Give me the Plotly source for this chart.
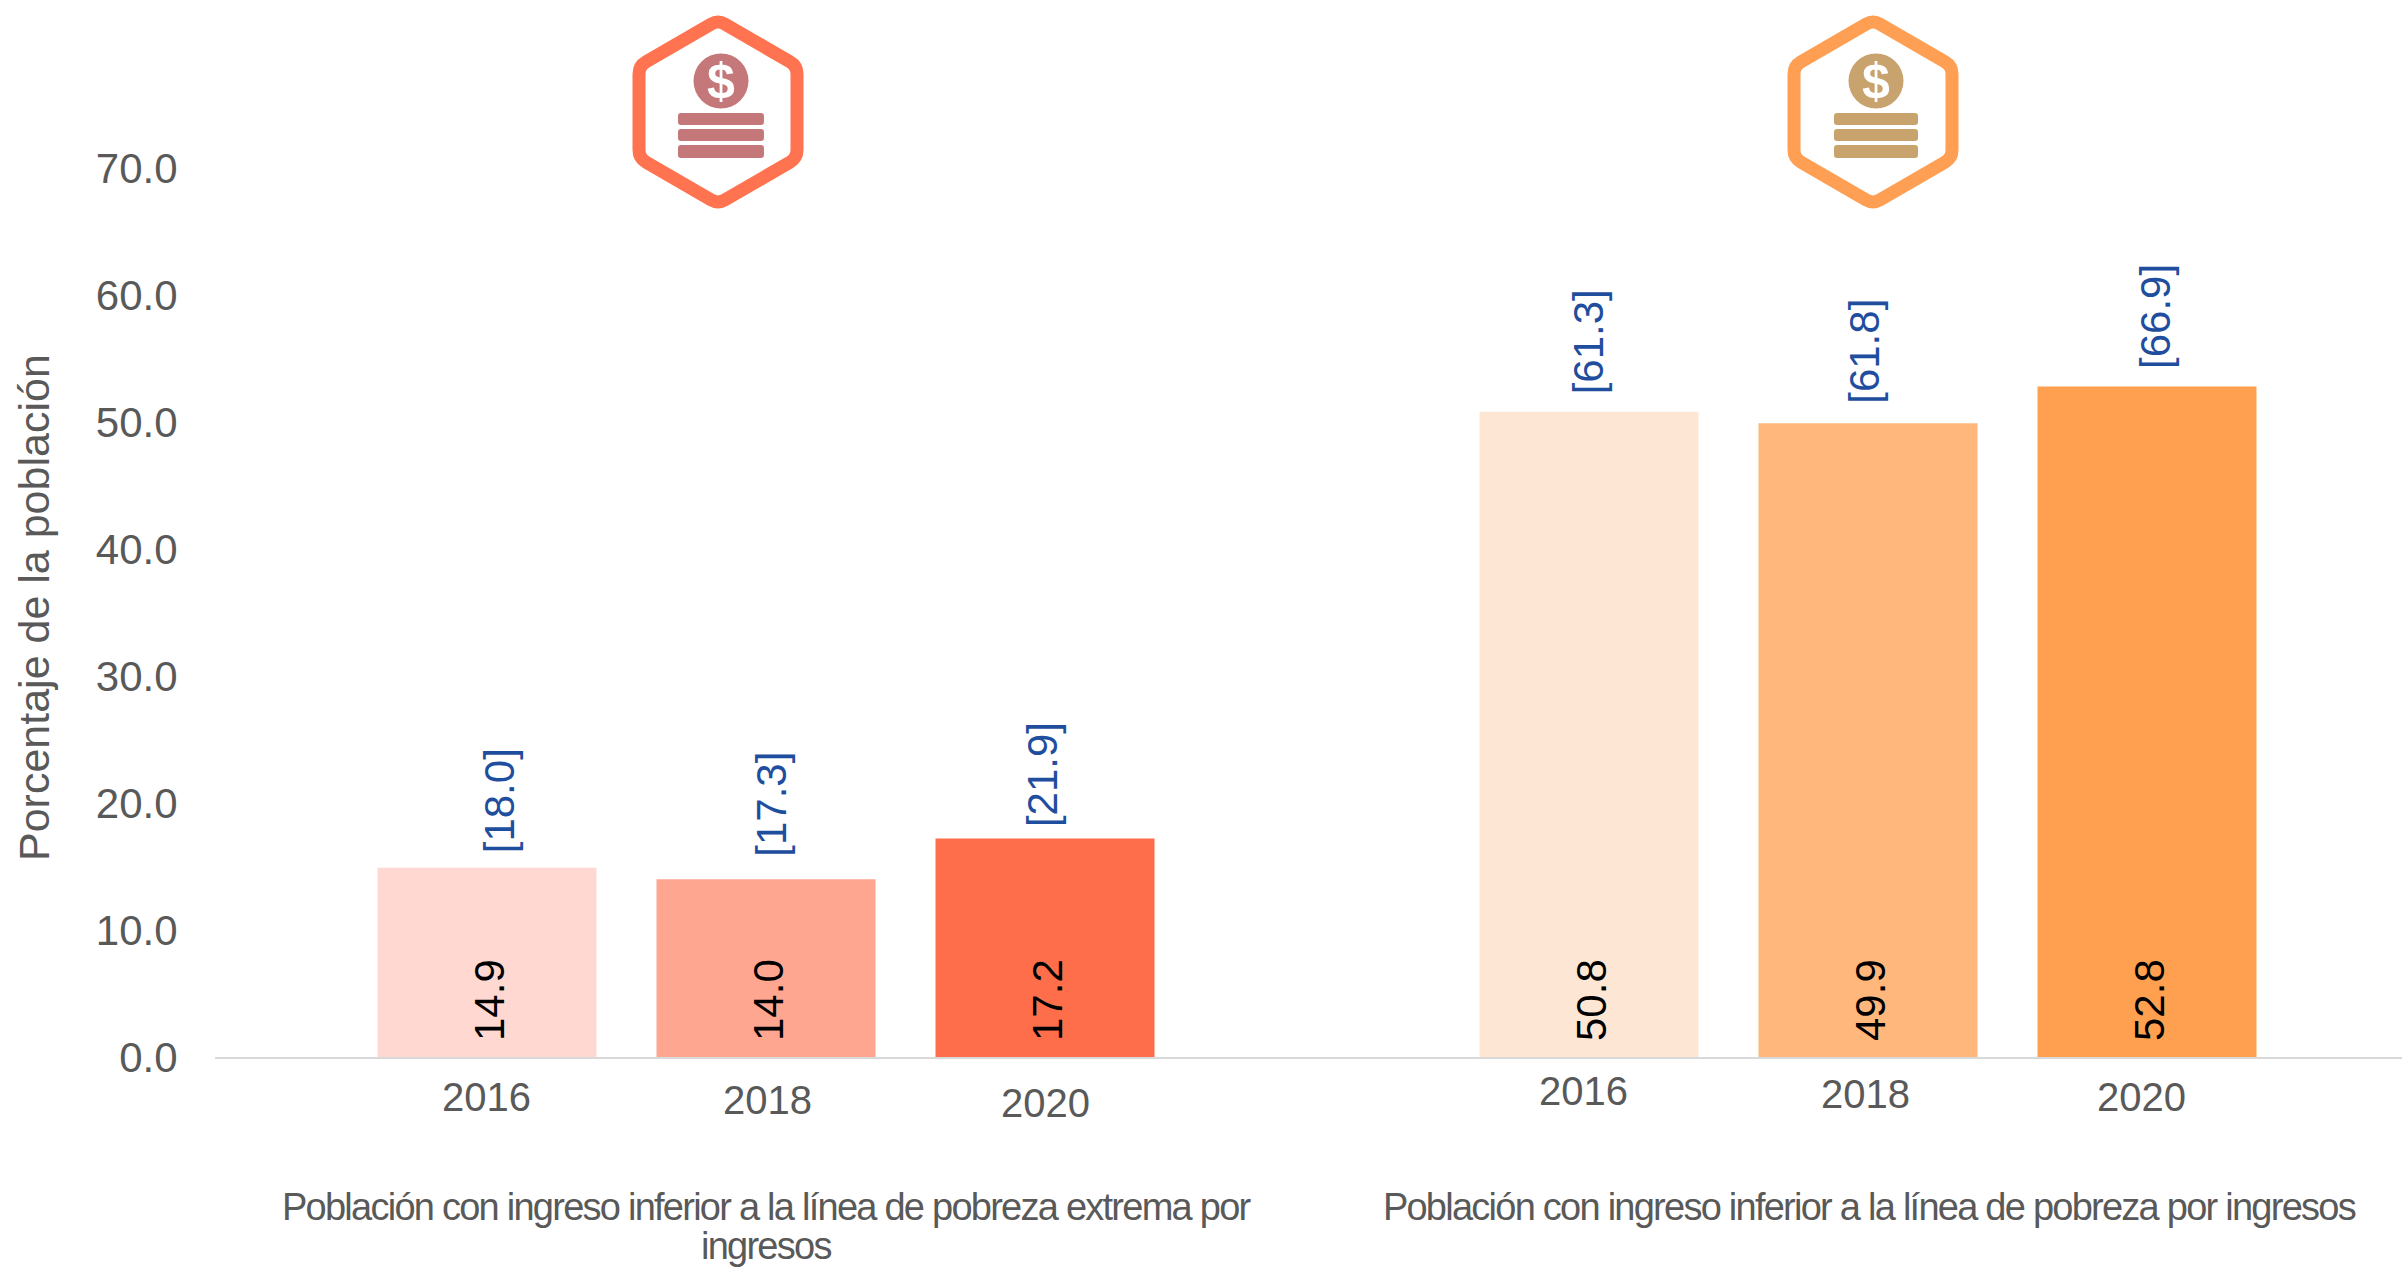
import plotly.graph_objects as go

W, H = 2402, 1270
years = ["2016", "2018", "2020"]
extreme_values = [14.9, 14.0, 17.2]
extreme_ci_upper = ["[18.0]", "[17.3]", "[21.9]"]
poverty_values = [50.8, 49.9, 52.8]
poverty_ci_upper = ["[61.3]", "[61.8]", "[66.9]"]
extreme_colors = ["#FFD9D1", "#FFA691", "#FF6E4A"]
poverty_colors = ["#FEE6D4", "#FFB77C", "#FF9F50"]
group_left = ["Población con ingreso inferior a la línea de pobreza extrema por", "ingresos"]
group_right = ["Población con ingreso inferior a la línea de pobreza por ingresos"]
y_title = "Porcentaje de la población"
y_ticks = [0, 10, 20, 30, 40, 50, 60, 70]

FONT = "Liberation Sans"
GREY = "#595959"
BLUE = "#1F4E9E"

# pixel layout
AX_L, AX_MID, AX_R = 215, 1317, 2402
Y0, Y70 = 1057, 168
STEP = 279
C_L, C_R = 766, 1868
px = lambda x: x / W
py = lambda y: 1 - y / H


def xrange_for(center, a, b):
    return [1 + (a - center) / STEP, 1 + (b - center) / STEP]


fig = go.Figure()
fig.add_bar(x=years, y=extreme_values, marker_color=extreme_colors, marker_line_width=0,
            xaxis="x", yaxis="y", width=219 / STEP, showlegend=False)
fig.add_bar(x=years, y=poverty_values, marker_color=poverty_colors, marker_line_width=0,
            xaxis="x2", yaxis="y", width=219 / STEP, showlegend=False)

ann = []
ci_dx = [[12, 6, -3], [-1, -3, 9]]
ci_dy = [[12, 20, 9], [15, 17, 15]]
tick_dx = [[-1, 1, 0], [-6, -3, -6]]
tick_dy = [[16, 19, 22], [10, 13, 16]]
for xr, vals, cis, dxs, dys, tdx, tdy in [
    ("x", extreme_values, extreme_ci_upper, ci_dx[0], ci_dy[0], tick_dx[0], tick_dy[0]),
    ("x2", poverty_values, poverty_ci_upper, ci_dx[1], ci_dy[1], tick_dx[1], tick_dy[1]),
]:
    for i, yr in enumerate(years):
        ann.append(dict(x=i, y=vals[i], xref=xr, yref="y", text=cis[i], showarrow=False, textangle=-90,
                        yanchor="bottom", xanchor="center", xshift=dxs[i], yshift=dys[i],
                        font=dict(family=FONT, size=42, color=BLUE)))
        ann.append(dict(x=i, y=0, xref=xr, yref="y", text=yr, showarrow=False,
                        yanchor="top", xanchor="center", xshift=tdx[i], yshift=-tdy[i],
                        font=dict(family=FONT, size=40, color=GREY)))
        ann.append(dict(x=i, y=0, xref=xr, yref="y", text=f"{vals[i]:.1f}", showarrow=False, textangle=-90,
                        yanchor="bottom", xanchor="center", xshift=2, yshift=14,
                        font=dict(family=FONT, size=42, color="black")))

# category group captions, one annotation per line
for lines, cx in [(group_left, 766), (group_right, 1869)]:
    for k, line in enumerate(lines):
        ann.append(dict(x=px(cx), y=py(1207 + 39 * k), xref="paper", yref="paper", text=line, showarrow=False,
                        xanchor="center", yanchor="middle", font=dict(family=FONT, size=38, color=GREY)))

# value axis title
ann.append(dict(x=px(34), y=py(608), xref="paper", yref="paper", text=y_title, showarrow=False, textangle=-90,
                xanchor="center", yanchor="middle", font=dict(family=FONT, size=43, color=GREY)))

shapes = []


def rounded_poly(pts, r):
    n = len(pts)
    d = ""
    for i in range(n):
        p0, p1, p2 = pts[i - 1], pts[i], pts[(i + 1) % n]

        def toward(a, b):
            L = ((a[0] - b[0]) ** 2 + (a[1] - b[1]) ** 2) ** 0.5
            return (a[0] + (b[0] - a[0]) * r / L, a[1] + (b[1] - a[1]) * r / L)

        s, e = toward(p1, p0), toward(p1, p2)
        d += f"{'M' if i == 0 else 'L'} {px(s[0]):.5f} {py(s[1]):.5f} Q {px(p1[0]):.5f} {py(p1[1]):.5f} {px(e[0]):.5f} {py(e[1]):.5f} "
    return d + "Z"


def icon(cx_hex, cx_coin, rect_l, rect_r, hexcol, col):
    l, r = cx_hex - 79, cx_hex + 79
    hexpts = [(cx_hex, 20), (r, 66), (r, 158), (cx_hex, 204), (l, 158), (l, 66)]
    shapes.append(dict(type="path", xref="paper", yref="paper", path=rounded_poly(hexpts, 8),
                       line=dict(color=hexcol, width=13), fillcolor="white"))
    shapes.append(dict(type="circle", xref="paper", yref="paper", x0=px(cx_coin - 27.5), x1=px(cx_coin + 27.5),
                       y0=py(81 - 27.5), y1=py(81 + 27.5), fillcolor=col, line_width=0))
    for top, bot in [(113, 125), (129, 141), (145, 158)]:
        shapes.append(dict(type="path", xref="paper", yref="paper",
                           path=rounded_poly([(rect_l, top), (rect_r, top), (rect_r, bot), (rect_l, bot)], 3),
                           fillcolor=col, line_width=0))
    ann.append(dict(x=px(cx_coin), y=py(81), xref="paper", yref="paper", text="<b>$</b>", showarrow=False,
                    xanchor="center", yanchor="middle", font=dict(family=FONT, size=50, color="white")))


icon(718, 721, 678, 764, "#FF7350", "#C5787A")
icon(1873, 1876, 1834, 1918, "#FF9F53", "#C8A36E")

fig.update_layout(
    width=W, height=H, margin=dict(l=0, r=0, t=0, b=0), autosize=False,
    paper_bgcolor="white", plot_bgcolor="white", annotations=ann, shapes=shapes, showlegend=False,
    font=dict(family=FONT, color=GREY),
    xaxis=dict(domain=[px(AX_L), px(AX_MID)], range=xrange_for(C_L, AX_L, AX_MID), type="category",
               categoryarray=years, showticklabels=False, ticks="", showgrid=False, zeroline=False,
               showline=True, linecolor="#D9D9D9", linewidth=2, anchor="y"),
    xaxis2=dict(domain=[px(AX_MID), 1], range=xrange_for(C_R, AX_MID, AX_R), type="category",
                categoryarray=years, showticklabels=False, ticks="", showgrid=False, zeroline=False,
                showline=True, linecolor="#D9D9D9", linewidth=2, anchor="y"),
    yaxis=dict(domain=[py(Y0), py(Y70)], range=[0, 70], tickmode="array", tickvals=y_ticks,
               ticktext=[f"{v:.1f}" for v in y_ticks], tickfont=dict(family=FONT, size=42, color=GREY),
               showgrid=False, zeroline=False, showline=False, ticks="outside", ticklen=29, tickcolor="rgba(0,0,0,0)",
               anchor="free", position=px(AX_L), automargin=False),
)

post = """
document.body.style.margin='0';
document.querySelectorAll('.annotation-text').forEach(function(t){
  var s=t.textContent;
  if(s.indexOf('Población')===0||s==='ingresos'){t.style.letterSpacing='-1.75px';}
});
"""
fig.write_html("out.html", post_script=post, config={"displayModeBar": False})
